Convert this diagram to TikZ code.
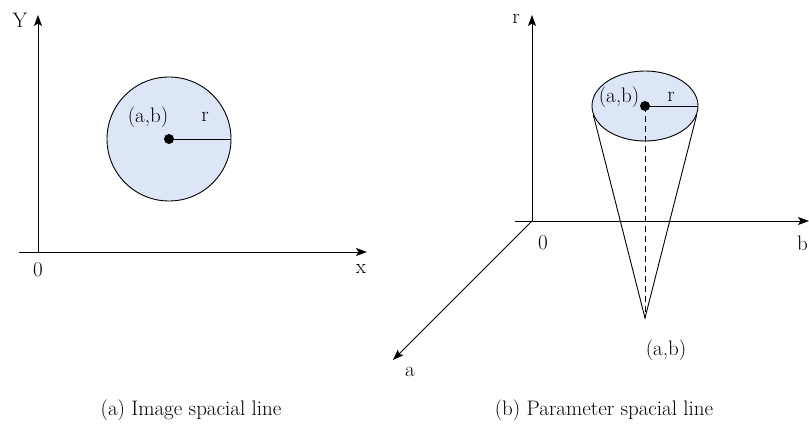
\documentclass[tikz,border=0pt]{standalone}
\usetikzlibrary{arrows.meta,shapes.geometric}
\definecolor{discfill}{HTML}{DCE6F6}
\begin{document}
\begin{tikzpicture}[x=1pt,y=-1pt,
  axis/.style={line width=0.9pt,-{Stealth[length=11pt,width=8pt,inset=2.5pt]}},
  edge/.style={line width=0.9pt},
  lbl/.style={inner sep=0pt,font=\fontsize{21}{24}\selectfont},
  dot/.style={circle,fill=black,inner sep=0pt,minimum size=10pt}]
\useasboundingbox (0,0) rectangle (809,425);
% ---- left panel ----
\coordinate (O1) at (38,252);
\coordinate (Ytip) at (38,15);
\coordinate (Xs) at (19,252);
\coordinate (Xtip) at (367,252);
\draw[axis] (O1) -- (Ytip);
\draw[axis] (Xs) -- (Xtip);
\node[lbl] (Ylab) at (20,20) {Y};
\node[lbl] (zero1) at (38,270) {0};
\node[lbl] (xlab) at (361,269) {x};
\node[circle,draw,edge,fill=discfill,minimum size=124pt,inner sep=0pt] (C1) at (169,139) {};
\node[dot] (c1) at (C1.center) {};
\draw[edge] (c1.center) -- (C1.east);
\node[lbl] (ab1) at (148,117) {(a,b)};
\node[lbl] (r1) at (205,117) {r};
% ---- right panel ----
\coordinate (O2) at (532,221);
\coordinate (Rtip) at (532,15);
\coordinate (Bs) at (515,221);
\coordinate (Btip) at (809,221);
\coordinate (Atip) at (393,360);
\draw[axis] (O2) -- (Rtip);
\draw[axis] (Bs) -- (Btip);
\draw[axis] (O2) -- (Atip);
\node[lbl] (rlab) at (516,19) {r};
\node[lbl] (zero2) at (543,243) {0};
\node[lbl,anchor=east] (blab) at (808,243) {b};
\node[lbl] (alab) at (410,372) {a};
\node[ellipse,draw,edge,fill=discfill,minimum width=106pt,minimum height=70pt,inner sep=0pt] (E) at (645,106) {};
\coordinate (apex) at (645,318);
\draw[edge] (E.190) -- (apex) -- (E.-10);
\draw[edge,dashed,dash pattern=on 6pt off 4pt] (E.center) -- (apex);
\node[dot] (c2) at (E.center) {};
\draw[edge] (c2.center) -- (E.east);
\node[lbl] (ab2) at (619,97) {(a,b)};
\node[lbl] (r2) at (671,97) {r};
\node[lbl] (ab3) at (666,350) {(a,b)};
% ---- captions ----
\node[lbl] (capa) at (191,410) {(a) Image spacial line};
\node[lbl] (capb) at (604,410) {(b) Parameter spacial line};
\end{tikzpicture}
\end{document}
